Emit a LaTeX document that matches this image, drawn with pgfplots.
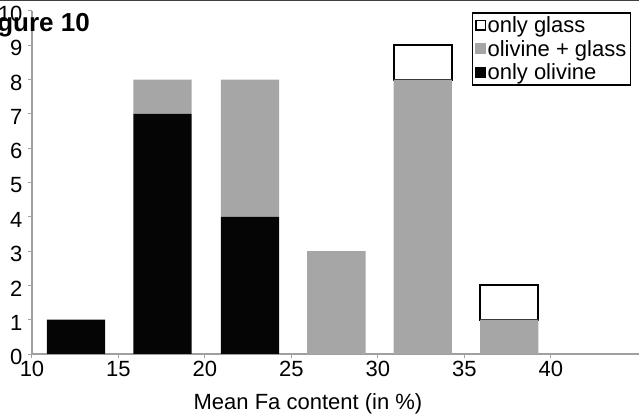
\documentclass[border=0pt]{standalone}
\usepackage{pgfplots}
\pgfplotsset{compat=1.18}
\usepackage{fontspec}
\setmainfont{Liberation Sans}
\definecolor{axgray}{HTML}{A0A0A0}
\definecolor{bargray}{HTML}{A6A6A6}
\definecolor{barblack}{HTML}{050505}
\begin{document}
\begin{tikzpicture}
\useasboundingbox (0,0) rectangle (639bp,414bp);
\clip (0,0) rectangle (639bp,414bp);
\begin{axis}[
  at={(32bp,60bp)}, anchor=south west,
  scale only axis, width=607bp, height=343bp,
  xmin=10, xmax=45.1, ymin=0, ymax=10,
  xtick={10,15,...,40}, ytick={0,1,...,10},
  axis x line=bottom, axis y line=left,
  axis line style={-, draw=axgray, line width=1.2bp},
  tick style={draw=axgray, line width=1bp},
  major tick length=4bp,
  tick align=outside,
  ybar stacked, bar width=3.37,
  ticklabel style={font=\fontsize{22bp}{24bp}\selectfont},
  yticklabel style={xshift=-2bp, yshift=-3bp},
  /pgf/number format/assume math mode=true,
  xlabel={Mean Fa content (in \%)},
  every axis x label/.style={at={(rel axis cs:0.4547,0)}, anchor=base, yshift=-55bp, font=\fontsize{22bp}{26bp}\selectfont},
  legend style={at={(rel axis cs:0.987,0.997)}, anchor=north east, draw=black, line width=1.5bp, fill=white,
    inner sep=2.5bp, font=\fontsize{22bp}{24bp}\selectfont, row sep=3bp,
    /tikz/every even column/.style={column sep=0bp},
    nodes={inner sep=1.5bp}},
  legend cell align=left,
  reverse legend,
]
% data ordered so that the columns carrying "only glass" come first
\addplot[fill=barblack, draw=none,
  legend image code/.code={\fill[barblack] (0bp,-5.5bp) rectangle (11bp,5.5bp);}]
  coordinates {(32.6,0) (37.6,0) (12.55,1) (17.55,7) (22.6,4) (27.6,0)};
\addlegendentry{only olivine}
\addplot[fill=bargray, draw=none,
  legend image code/.code={\fill[bargray] (0bp,-5.5bp) rectangle (11bp,5.5bp);}]
  coordinates {(32.6,8) (37.6,1) (12.55,0) (17.55,1) (22.6,4) (27.6,3)};
\addlegendentry{olivine + glass}
\addplot[fill=white, draw=black, line width=2bp,
  legend image code/.code={\draw[black, line width=1.5bp, fill=white] (0.75bp,-4.75bp) rectangle (10.25bp,4.75bp);}]
  coordinates {(32.6,1) (37.6,1)};
\addlegendentry{only glass}
\end{axis}
\node[anchor=base east, inner sep=0pt, font=\bfseries\fontsize{26bp}{30bp}\selectfont] at (90bp,382.3bp) {Figure 10};
\draw[line width=3bp, color=black!75] (0,414bp) -- (639bp,414bp);
\end{tikzpicture}
\end{document}
